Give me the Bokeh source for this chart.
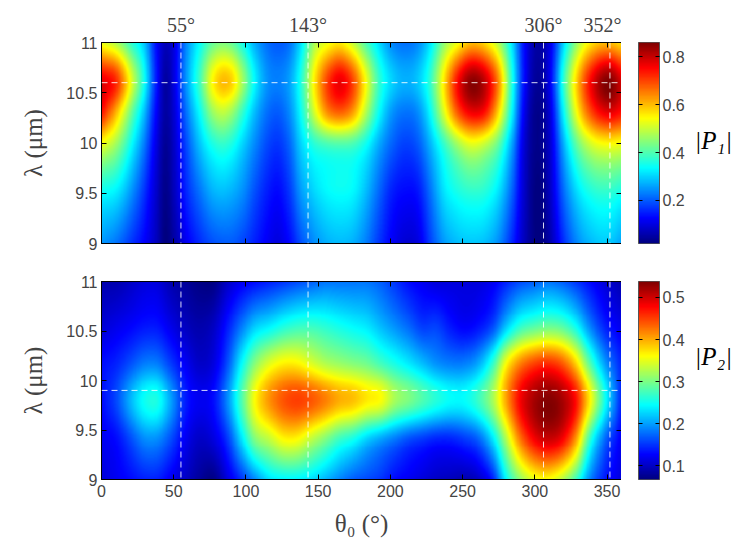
import numpy as np
from bokeh.plotting import figure
from bokeh.models import (LinearColorMapper, FixedTicker, LinearAxis, Span,
                          Label, Range1d, PrintfTickFormatter)
from bokeh.layouts import column, row
from bokeh.embed import file_html
from bokeh.resources import INLINE

# ---------------- data ----------------
# |P1| : values sampled at theta columns (deg) for several wavelength rows (um)
theta_p1 = [0, 10, 20, 30, 38, 44, 50, 58, 68, 77, 84, 90, 98, 106, 114, 122, 130, 138,
            147, 156, 165, 174, 183, 192, 201, 210, 219, 228, 237, 246, 256, 266, 275,
            284, 293, 303, 311, 320, 330, 340, 352, 360]
lam_p1 = [9.0, 9.5, 10.0, 10.3, 10.6, 11.0]
p1_l090 = [0.25, 0.22, 0.17, 0.12, 0.07, 0.02, 0.05, 0.11, 0.16, 0.19, 0.20, 0.20, 0.18, 0.15,
           0.12, 0.10, 0.13, 0.19, 0.24, 0.27, 0.28, 0.27, 0.23, 0.17, 0.12, 0.09, 0.10, 0.18,
           0.25, 0.28, 0.29, 0.28, 0.24, 0.16, 0.07, 0.02, 0.06, 0.16, 0.24, 0.28, 0.29, 0.26]
p1_l095 = [0.34, 0.32, 0.25, 0.16, 0.08, 0.03, 0.07, 0.15, 0.22, 0.27, 0.28, 0.27, 0.24, 0.19,
           0.15, 0.13, 0.17, 0.25, 0.30, 0.33, 0.34, 0.33, 0.28, 0.21, 0.15, 0.13, 0.14, 0.22,
           0.31, 0.35, 0.37, 0.36, 0.31, 0.21, 0.08, 0.02, 0.08, 0.21, 0.31, 0.36, 0.37, 0.35]
p1_l100 = [0.54, 0.47, 0.35, 0.22, 0.10, 0.04, 0.08, 0.18, 0.29, 0.36, 0.38, 0.36, 0.30, 0.24,
           0.19, 0.17, 0.21, 0.30, 0.37, 0.40, 0.41, 0.40, 0.35, 0.27, 0.21, 0.18, 0.20, 0.28,
           0.38, 0.47, 0.53, 0.50, 0.42, 0.27, 0.09, 0.03, 0.09, 0.27, 0.43, 0.52, 0.55, 0.54]
p1_l103 = [0.74, 0.60, 0.43, 0.27, 0.12, 0.05, 0.09, 0.21, 0.34, 0.46, 0.49, 0.46, 0.37, 0.28,
           0.22, 0.20, 0.24, 0.34, 0.50, 0.63, 0.67, 0.62, 0.48, 0.34, 0.25, 0.22, 0.24, 0.34,
           0.51, 0.67, 0.76, 0.73, 0.57, 0.34, 0.11, 0.03, 0.10, 0.33, 0.55, 0.70, 0.77, 0.74]
p1_l106 = [0.78, 0.72, 0.53, 0.33, 0.14, 0.05, 0.10, 0.24, 0.39, 0.55, 0.60, 0.58, 0.46, 0.33,
           0.25, 0.23, 0.26, 0.36, 0.55, 0.70, 0.77, 0.70, 0.54, 0.38, 0.30, 0.27, 0.29, 0.38,
           0.56, 0.74, 0.85, 0.80, 0.64, 0.37, 0.13, 0.04, 0.12, 0.37, 0.60, 0.77, 0.86, 0.79]
p1_l110 = [0.53, 0.48, 0.38, 0.28, 0.13, 0.07, 0.10, 0.23, 0.34, 0.42, 0.44, 0.42, 0.35, 0.27,
           0.22, 0.20, 0.22, 0.31, 0.47, 0.53, 0.56, 0.50, 0.40, 0.31, 0.24, 0.22, 0.24, 0.32,
           0.45, 0.53, 0.60, 0.57, 0.48, 0.32, 0.13, 0.05, 0.11, 0.30, 0.47, 0.57, 0.60, 0.57]

# |P2|
theta_p2 = [0, 10, 20, 30, 38, 48, 58, 68, 77, 87, 97, 106, 116, 126, 135, 145, 155, 164,
            174, 184, 193, 203, 213, 222, 232, 242, 251, 261, 271, 280, 290, 300, 309, 319,
            329, 338, 348, 360]
lam_p2 = [9.0, 9.4, 9.8, 10.2, 10.5, 11.0]
p2_l090 = [0.11, 0.12, 0.13, 0.14, 0.14, 0.12, 0.10, 0.08, 0.07, 0.11, 0.15, 0.19, 0.23, 0.24,
           0.24, 0.23, 0.21, 0.19, 0.17, 0.16, 0.15, 0.13, 0.12, 0.11, 0.10, 0.095, 0.09, 0.10,
           0.14, 0.24, 0.31, 0.35, 0.36, 0.33, 0.27, 0.19, 0.14, 0.11]
p2_l094 = [0.12, 0.13, 0.16, 0.19, 0.19, 0.16, 0.12, 0.10, 0.11, 0.15, 0.23, 0.30, 0.33, 0.36,
           0.36, 0.33, 0.30, 0.27, 0.25, 0.22, 0.20, 0.18, 0.16, 0.15, 0.14, 0.14, 0.15, 0.17,
           0.23, 0.32, 0.42, 0.48, 0.50, 0.48, 0.40, 0.27, 0.18, 0.12]
p2_l098 = [0.13, 0.16, 0.21, 0.25, 0.255, 0.20, 0.14, 0.12, 0.13, 0.19, 0.28, 0.36, 0.41, 0.44,
           0.45, 0.44, 0.42, 0.40, 0.39, 0.37, 0.36, 0.32, 0.30, 0.28, 0.26, 0.245, 0.245, 0.27,
           0.32, 0.40, 0.48, 0.52, 0.535, 0.52, 0.47, 0.37, 0.26, 0.14]
p2_l102 = [0.13, 0.14, 0.16, 0.18, 0.18, 0.15, 0.12, 0.10, 0.11, 0.16, 0.24, 0.30, 0.34, 0.36,
           0.36, 0.34, 0.32, 0.31, 0.30, 0.29, 0.27, 0.25, 0.23, 0.21, 0.19, 0.18, 0.18, 0.20,
           0.26, 0.35, 0.41, 0.44, 0.45, 0.43, 0.37, 0.28, 0.20, 0.14]
p2_l105 = [0.11, 0.12, 0.13, 0.14, 0.14, 0.12, 0.10, 0.09, 0.10, 0.14, 0.19, 0.23, 0.25, 0.27,
           0.28, 0.28, 0.27, 0.26, 0.25, 0.24, 0.22, 0.20, 0.18, 0.16, 0.16, 0.14, 0.13, 0.14,
           0.17, 0.23, 0.28, 0.30, 0.31, 0.30, 0.26, 0.20, 0.15, 0.12]
p2_l110 = [0.09, 0.09, 0.10, 0.11, 0.11, 0.09, 0.08, 0.07, 0.07, 0.10, 0.12, 0.13, 0.14, 0.15,
           0.16, 0.17, 0.18, 0.18, 0.18, 0.18, 0.17, 0.15, 0.13, 0.12, 0.11, 0.11, 0.11, 0.11,
           0.12, 0.14, 0.16, 0.17, 0.18, 0.17, 0.15, 0.13, 0.11, 0.09]

marker_angles = [55, 143, 306, 352]
marker_labels = ["55°", "143°", "306°", "352°"]
lam_line_p1 = 10.6
lam_line_p2 = 9.9
x_ticks = [0, 50, 100, 150, 200, 250, 300, 350]
y_ticks = [9, 9.5, 10, 10.5, 11]
cbar1_ticks = [0.2, 0.4, 0.6, 0.8]
cbar2_ticks = [0.1, 0.2, 0.3, 0.4, 0.5]
p1_range = (0.02, 0.86)
p2_range = (0.067, 0.538)


# ---------------- helpers ----------------
def hermite(xk, yk, xn):
    xk = np.asarray(xk, float)
    yk = np.asarray(yk, float)
    m = np.gradient(yk, xk, axis=-1)
    i = np.clip(np.searchsorted(xk, xn, side="right") - 1, 0, len(xk) - 2)
    h = xk[i + 1] - xk[i]
    t = (xn - xk[i]) / h
    h00 = (1 + 2 * t) * (1 - t) ** 2
    h10 = t * (1 - t) ** 2
    h01 = t * t * (3 - 2 * t)
    h11 = t * t * (t - 1)
    return (h00 * yk[..., i] + h10 * h * m[..., i]
            + h01 * yk[..., i + 1] + h11 * h * m[..., i + 1])


def field(theta, lams, rows, vr):
    th_f = np.linspace(0, 360, 721)
    la_f = np.linspace(9, 11, 201)
    grid = np.array(rows, float)
    a = hermite(theta, grid, th_f)          # (nrows, 721)
    b = hermite(lams, a.T, la_f)            # (721, 201)
    return np.clip(b.T, vr[0], vr[1])


def jet_palette(n=256):
    t = np.linspace(0, 1, n)
    r = np.clip(1.5 - np.abs(4 * t - 3), 0, 1)
    g = np.clip(1.5 - np.abs(4 * t - 2), 0, 1)
    b = np.clip(1.5 - np.abs(4 * t - 1), 0, 1)
    return ["#%02x%02x%02x" % (int(round(255 * a)), int(round(255 * c)), int(round(255 * d)))
            for a, c, d in zip(r, g, b)]


JET = jet_palette()
SANS = "Liberation Sans"
SERIF = "Liberation Serif"
FRAME_W = 520


def tick_only_axis(ticks):
    return LinearAxis(ticker=FixedTicker(ticks=ticks), major_tick_in=5, major_tick_out=0,
                      major_label_text_font_size="0px", major_label_text_color=None,
                      major_label_standoff=0,
                      axis_line_color="black", major_tick_line_color="black")


def base_fig(fw, fh, mb_top, mb_bottom, mb_left, mb_right, xr, yr):
    p = figure(frame_width=fw, frame_height=fh, min_border_left=mb_left,
               min_border_right=mb_right, min_border_top=mb_top, min_border_bottom=mb_bottom,
               x_range=xr, y_range=yr, x_axis_type=None, y_axis_type=None,
               output_backend="svg", toolbar_location=None)
    p.background_fill_color = "white"
    p.border_fill_color = "white"
    return p


def main_panel(Z, mapper, lam_line, fh, top_labels, bottom_labels, mb_top, mb_bottom):
    p = base_fig(FRAME_W, fh, mb_top, mb_bottom, 101, 0, Range1d(0, 360), Range1d(9, 11))
    p.outline_line_color = "black"
    p.image(image=[Z], x=0, y=9, dw=360, dh=2, color_mapper=mapper)

    ly = LinearAxis(ticker=FixedTicker(ticks=y_ticks), formatter=PrintfTickFormatter(format="%g"),
                    major_tick_in=5, major_tick_out=0, major_label_standoff=4,
                    major_label_text_font=SANS, major_label_text_font_size="16px",
                    axis_label="λ (μm)", axis_label_text_font=SERIF,
                    axis_label_text_font_style="normal", axis_label_text_font_size="25px",
                    axis_label_standoff=16)
    p.add_layout(ly, "left")

    if bottom_labels:
        bx = LinearAxis(ticker=FixedTicker(ticks=x_ticks), major_tick_in=5, major_tick_out=0,
                        major_label_standoff=5, major_label_text_font=SANS,
                        major_label_text_font_size="16px",
                        axis_label="θ₀ (°)", axis_label_text_font=SERIF,
                        axis_label_text_font_style="normal", axis_label_text_font_size="25px",
                        axis_label_standoff=10)
    else:
        bx = tick_only_axis(x_ticks)
    p.add_layout(bx, "below")
    p.add_layout(tick_only_axis(x_ticks), "above")
    p.add_layout(tick_only_axis(y_ticks), "right")

    if top_labels:
        tx = LinearAxis(ticker=FixedTicker(ticks=marker_angles),
                        major_label_overrides={a: s for a, s in zip(marker_angles, marker_labels)},
                        major_tick_in=0, major_tick_out=0, axis_line_color=None,
                        major_label_standoff=7, major_label_text_font=SERIF,
                        major_label_text_font_size="20px")
        p.add_layout(tx, "above")

    for a in marker_angles:
        p.add_layout(Span(location=a, dimension="height", line_color="white",
                          line_dash="6 4", line_width=1, line_alpha=0.85))
    p.add_layout(Span(location=lam_line, dimension="width", line_color="white",
                      line_dash="6 4", line_width=1, line_alpha=0.85))
    return p


def cbar_panel(mapper, vr, cticks, fh, mb_top, mb_bottom):
    p = base_fig(21, fh, mb_top, mb_bottom, 17, 30, Range1d(0, 1), Range1d(vr[0], vr[1]))
    p.outline_line_color = "#555555"
    grad = np.linspace(vr[0], vr[1], 256).reshape(-1, 1)
    p.image(image=[grad], x=0, y=vr[0], dw=1, dh=vr[1] - vr[0], color_mapper=mapper)
    ra = LinearAxis(ticker=FixedTicker(ticks=cticks), formatter=PrintfTickFormatter(format="%g"),
                    major_tick_in=4, major_tick_out=0, major_label_standoff=3,
                    major_label_text_font=SANS, major_label_text_font_size="16px",
                    axis_line_color="#555555", major_tick_line_color="black")
    p.add_layout(ra, "right")
    la = tick_only_axis(cticks)
    la.major_tick_in = 4
    la.axis_line_color = "#555555"
    p.add_layout(la, "left")
    return p


def label_panel(text, h, yfrac):
    p = figure(width=54, height=h, x_range=Range1d(0, 1), y_range=Range1d(0, 1),
               x_axis_type=None, y_axis_type=None, min_border=0,
               output_backend="svg", toolbar_location=None)
    p.outline_line_color = None
    p.background_fill_color = "white"
    p.border_fill_color = "white"
    p.add_layout(Label(x=0.44, y=yfrac, text=text, text_align="center",
                       text_baseline="middle", text_font=SERIF, text_font_style="italic",
                       text_font_size="25px", text_color="black"))
    return p


Z1 = field(theta_p1, lam_p1, [p1_l090, p1_l095, p1_l100, p1_l103, p1_l106, p1_l110], p1_range)
Z2 = field(theta_p2, lam_p2, [p2_l090, p2_l094, p2_l098, p2_l102, p2_l105, p2_l110], p2_range)
m1 = LinearColorMapper(palette=JET, low=p1_range[0], high=p1_range[1])
m2 = LinearColorMapper(palette=JET, low=p2_range[0], high=p2_range[1])

H1_TOP, H1_F, H1_BOT = 42, 201, 18
H2_TOP, H2_F, H2_BOT = 20, 198, 70

row1 = row(main_panel(Z1, m1, lam_line_p1, H1_F, True, False, H1_TOP, H1_BOT),
           cbar_panel(m1, p1_range, cbar1_ticks, H1_F, H1_TOP, H1_BOT),
           label_panel("|P₁|", H1_TOP + H1_F + H1_BOT, 0.513))
row2 = row(main_panel(Z2, m2, lam_line_p2, H2_F, False, True, H2_TOP, H2_BOT),
           cbar_panel(m2, p2_range, cbar2_ticks, H2_F, H2_TOP, H2_BOT),
           label_panel("|P₂|", H2_TOP + H2_F + H2_BOT, 0.62))

layout = column(row1, row2)
open("out.html", "w").write(file_html(layout, INLINE))
